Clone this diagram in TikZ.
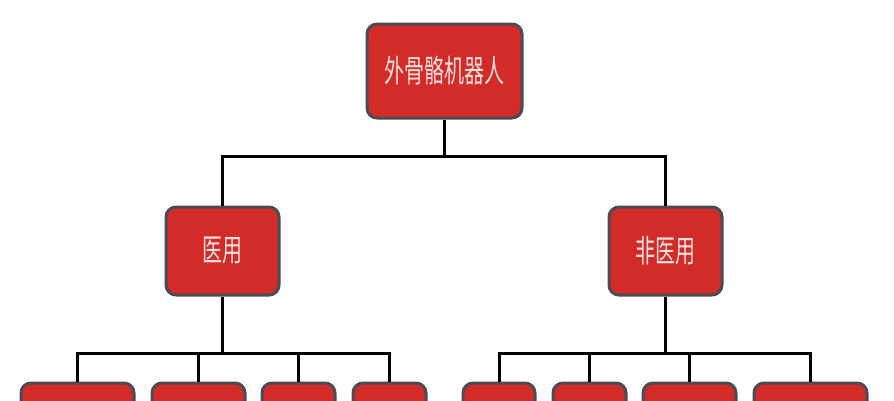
\documentclass[tikz,border=0pt]{standalone}
\usepackage{fontspec}
\usepackage{graphicx}
\newfontfamily\cjk{Noto Sans CJK SC}
\definecolor{boxred}{HTML}{D32B27}
\definecolor{boxedge}{HTML}{4B4B58}
\definecolor{txtpink}{HTML}{F7E0DE}
\tikzset{
  orgbox/.style={draw=boxedge, line width=3pt, fill=boxred, rounded corners=10pt,
    text=txtpink, font=\cjk\fontsize{25}{29}\selectfont, inner sep=0pt},
  link/.style={draw=black, line width=3pt, line join=miter}
}
\newcommand{\ctext}[1]{\scalebox{0.8}[1.25]{#1}}
\begin{document}
\begin{tikzpicture}[x=1pt,y=-1pt]
\useasboundingbox (0,0) rectangle (894,400);
\clip (0,0) rectangle (894,400);
\fill[white] (0,0) rectangle (894,400);
% nodes
\node[orgbox, minimum width=155pt, minimum height=94pt] (top) at (444.5,71) {\ctext{外骨骼机器人}};
\node[orgbox, minimum width=113pt, minimum height=88pt] (ml) at (222.5,251) {\ctext{医用}};
\node[orgbox, minimum width=113pt, minimum height=88pt] (mr) at (665.5,251) {\ctext{非医用}};
\node[orgbox, minimum width=113pt, minimum height=88pt] (b1) at (77.5,427) {};
\node[orgbox, minimum width=93pt, minimum height=88pt] (b2) at (198.5,427) {};
\node[orgbox, minimum width=73pt, minimum height=88pt] (b3) at (298.5,427) {};
\node[orgbox, minimum width=73pt, minimum height=88pt] (b4) at (389.5,427) {};
\node[orgbox, minimum width=72pt, minimum height=88pt] (b5) at (499,427) {};
\node[orgbox, minimum width=73pt, minimum height=88pt] (b6) at (589.5,427) {};
\node[orgbox, minimum width=93pt, minimum height=88pt] (b7) at (689.5,427) {};
\node[orgbox, minimum width=113pt, minimum height=88pt] (b8) at (810.5,427) {};
% junctions
\coordinate (j1) at (444.5,156);
\coordinate (j2) at (222.5,353);
\coordinate (j3) at (665.5,353);
% connectors
\draw[link] (top.south) -- (j1);
\draw[link] (ml.north) |- (j1) -| (mr.north);
\draw[link] (ml.south) -- (j2);
\draw[link] (b1.north) |- (j2) -| (b4.north);
\draw[link] (b2.north) -- (b2.north |- j2);
\draw[link] (b3.north) -- (b3.north |- j2);
\draw[link] (mr.south) -- (j3);
\draw[link] (b5.north) |- (j3) -| (b8.north);
\draw[link] (b6.north) -- (b6.north |- j3);
\draw[link] (b7.north) -- (b7.north |- j3);
\end{tikzpicture}
\end{document}
